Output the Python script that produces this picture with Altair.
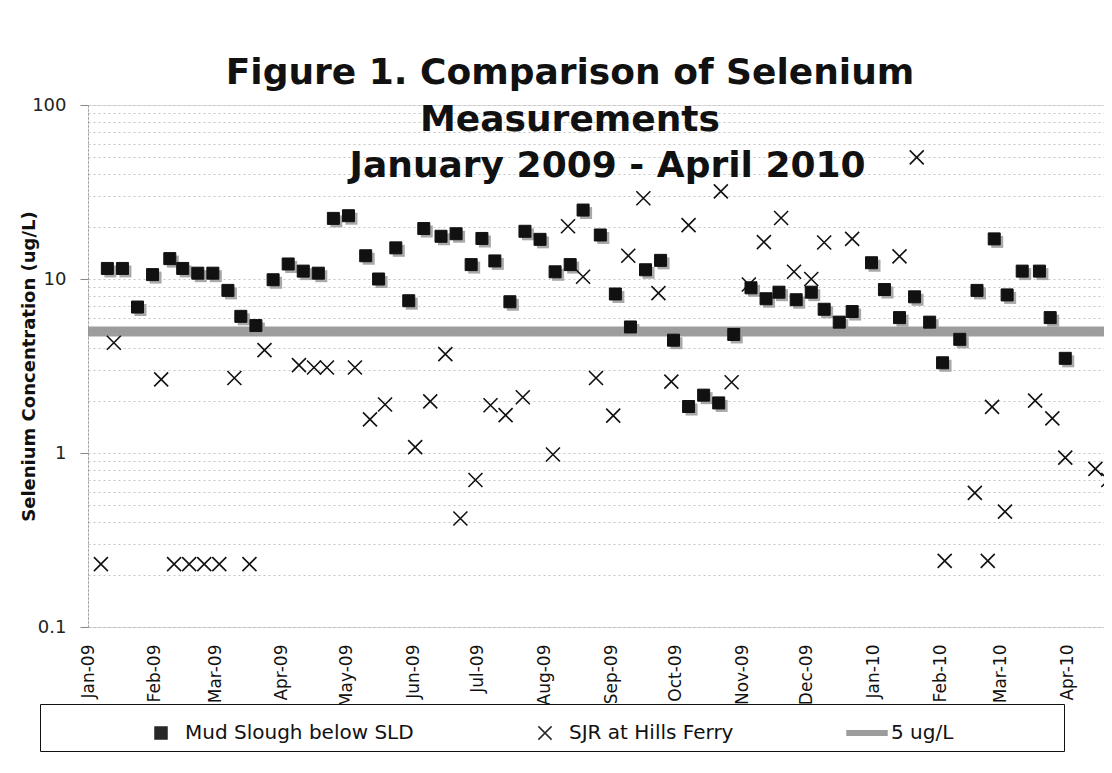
import altair as alt
import pandas as pd

SERIES = ["Mud Slough below SLD", "SJR at Hills Ferry", "5 ug/L"]

ms_dates = [
    "2009-01-10", "2009-01-17", "2009-01-24", "2009-01-31", "2009-02-08", "2009-02-14",
    "2009-02-21", "2009-02-28", "2009-03-07", "2009-03-13", "2009-03-20", "2009-03-28",
    "2009-04-04", "2009-04-11", "2009-04-18", "2009-04-25", "2009-05-02", "2009-05-10",
    "2009-05-16", "2009-05-24", "2009-05-30", "2009-06-06", "2009-06-14", "2009-06-21",
    "2009-06-28", "2009-07-03", "2009-07-09", "2009-07-16", "2009-07-23", "2009-07-30",
    "2009-08-06", "2009-08-13", "2009-08-19", "2009-08-27", "2009-09-03", "2009-09-10",
    "2009-09-17", "2009-09-24", "2009-09-30", "2009-10-07", "2009-10-14", "2009-10-21",
    "2009-10-28", "2009-11-05", "2009-11-12", "2009-11-18", "2009-11-26", "2009-12-03",
    "2009-12-09", "2009-12-16", "2009-12-22", "2009-12-31", "2010-01-06", "2010-01-13",
    "2010-01-20", "2010-01-27", "2010-02-02", "2010-02-10", "2010-02-18", "2010-02-26",
    "2010-03-04", "2010-03-11", "2010-03-19", "2010-03-24", "2010-03-31",
]
ms_values = [
    11.5, 11.5, 6.9, 10.6, 13.1, 11.5,
    10.8, 10.8, 8.6, 6.1, 5.4, 9.9,
    12.2, 11.1, 10.8, 22.3, 23.1, 13.6,
    10.0, 15.1, 7.5, 19.5, 17.6, 18.2,
    12.1, 17.1, 12.7, 7.4, 18.8, 16.9,
    11.0, 12.1, 24.9, 17.9, 8.2, 5.3,
    11.3, 12.8, 4.45, 1.85, 2.15, 1.94,
    4.8, 8.9, 7.7, 8.4, 7.6, 8.4,
    6.7, 5.65, 6.5, 12.4, 8.7, 6.0,
    7.9, 5.65, 3.3, 4.5, 8.6, 17.0,
    8.1, 11.1, 11.1, 6.0, 3.5,
]

sjr_dates = [
    "2009-01-07", "2009-01-13", "2009-02-04", "2009-02-10", "2009-02-17", "2009-02-24",
    "2009-03-03", "2009-03-10", "2009-03-17", "2009-03-24", "2009-04-09", "2009-04-16",
    "2009-04-22", "2009-05-05", "2009-05-12", "2009-05-19", "2009-06-02", "2009-06-09",
    "2009-06-16", "2009-06-23", "2009-06-30", "2009-07-07", "2009-07-14", "2009-07-22",
    "2009-08-05", "2009-08-12", "2009-08-19", "2009-08-25", "2009-09-02", "2009-09-09",
    "2009-09-16", "2009-09-23", "2009-09-29", "2009-10-07", "2009-10-22", "2009-10-27",
    "2009-11-04", "2009-11-11", "2009-11-19", "2009-11-25", "2009-12-03", "2009-12-09",
    "2009-12-22", "2010-01-13", "2010-01-21", "2010-02-03", "2010-02-17", "2010-02-23",
    "2010-02-25", "2010-03-03", "2010-03-17", "2010-03-25", "2010-03-31", "2010-04-14",
    "2010-04-20",
]
sjr_values = [
    0.23, 4.3, 2.65, 0.23, 0.23, 0.23,
    0.23, 2.7, 0.23, 3.9, 3.2, 3.1,
    3.1, 3.1, 1.56, 1.9, 1.08, 1.98,
    3.7, 0.42, 0.70, 1.88, 1.65, 2.09,
    0.98, 20.1, 10.3, 2.7, 1.64, 13.6,
    29.1, 8.3, 2.57, 20.4, 31.9, 2.55,
    9.3, 16.3, 22.4, 11.0, 10.0, 16.2,
    17.0, 13.5, 50.0, 0.24, 0.59, 0.24,
    1.84, 0.46, 2.0, 1.58, 0.94, 0.81,
    0.70,
]

limit_value = [5.0]

month_ticks = [
    "2009-01", "2009-02", "2009-03", "2009-04", "2009-05", "2009-06", "2009-07", "2009-08",
    "2009-09", "2009-10", "2009-11", "2009-12", "2010-01", "2010-02", "2010-03", "2010-04",
]
y_grid_values = [
    0.1, 0.2, 0.3, 0.4, 0.5, 0.6, 0.7, 0.8, 0.9,
    1, 2, 3, 4, 5, 6, 7, 8, 9,
    10, 20, 30, 40, 50, 60, 70, 80, 90, 100,
]

ms = pd.DataFrame({"date": pd.to_datetime(ms_dates), "value": ms_values, "series": SERIES[0]})
sjr = pd.DataFrame({"date": pd.to_datetime(sjr_dates), "value": sjr_values, "series": SERIES[1]})
limit = pd.DataFrame({"value": limit_value, "series": [SERIES[2]]})

FONT = "DejaVu Sans"
NB = "\u00a0"
ZW = "\u200b"

x_axis = alt.Axis(
    values=[alt.DateTime(year=int(m[:4]), month=int(m[5:]), date=1) for m in month_ticks],
    format="%b-%y", labelAngle=270, labelFont=FONT, labelFontSize=17, labelColor="#111",
    labelPadding=17, ticks=False, grid=False, title=None,
    domainColor="#bbbbbb", domainDash=[2, 3], labelOverlap=False,
)
y_axis = alt.Axis(
    values=y_grid_values,
    labelExpr="datum.value == 0.1 ? '0.1' : datum.value == 1 ? '1' : datum.value == 10 ? '10' : datum.value == 100 ? '100' : ''",
    labelFont=FONT, labelFontSize=18, labelColor="#222", labelPadding=14,
    grid=True, gridColor="#c4c4c4", gridDash=[2, 3], gridWidth=1,
    tickColor="#888", tickSize=8,
    tickOpacity={"condition": {"test": "indexof([0.1, 1, 10, 100], datum.value) >= 0", "value": 1}, "value": 0},
    domainColor="#999999", domainDash=[2, 2],
    title="Selenium Concentration (ug/L)", titleFont=FONT, titleFontSize=18,
    titleFontWeight="bold", titleColor="#111", titleX=-59, titleBaseline="middle",
)

x_enc = alt.X("date:T", scale=alt.Scale(domain=[alt.DateTime(year=2009, month=1, date=1),
                                              alt.DateTime(year=2010, month=4, date=18)]),
              axis=x_axis)
y_enc = alt.Y("value:Q", scale=alt.Scale(type="log", domain=[0.1, 100]), axis=y_axis)

legend = alt.Legend(
    orient="none", legendX=-48, legendY=599, direction="horizontal",
    title="MMMMM", titleOrient="left", titleFontSize=19, titleFont=FONT,
    titleFontWeight="normal", titleOpacity=0, titlePadding=10,
    labelFont=FONT, labelFontSize=20, labelColor="#111", labelOffset=3, labelLimit=600,
    columnPadding=110, padding=8, strokeColor="#111", fillColor="white",
    symbolSize=1600, symbolStrokeWidth=1.5,
    labelExpr="datum.label == '5 ug/L' ? datum.label + '" + NB * 16 + ZW + "' : datum.label",
)

SQUARE = "M-0.3,-0.3H0.3V0.3H-0.3Z"
CROSS = "M-0.33,-0.33L0.33,0.33M-0.33,0.33L0.33,-0.33"
BAR = "M-1,-0.11H1V0.11H-1Z"

shape_scale = alt.Scale(domain=SERIES, range=[SQUARE, CROSS, BAR])
fill_scale = alt.Scale(domain=SERIES, range=["#111111", "transparent", "#929292"])
stroke_scale = alt.Scale(domain=SERIES, range=["#111111", "#111111", "#929292"])

band = alt.Chart(limit).mark_rule(strokeWidth=10, opacity=0.9).encode(
    y=alt.Y("value:Q"),
    stroke=alt.Stroke("series:N", scale=stroke_scale, legend=legend),
)

shadow = alt.Chart(ms).mark_point(
    shape="square", filled=True, color="#a0a0a0", size=144, xOffset=3, yOffset=3,
    opacity=0.9, clip=True,
).encode(x=alt.X("date:T"), y=alt.Y("value:Q"))

squares = alt.Chart(ms).mark_point(clip=True, opacity=1, size=1600, strokeWidth=1).encode(
    x=alt.X("date:T"),
    y=alt.Y("value:Q"),
    shape=alt.Shape("series:N", scale=shape_scale, legend=legend),
    fill=alt.Fill("series:N", scale=fill_scale, legend=legend),
    stroke=alt.Stroke("series:N", scale=stroke_scale, legend=legend),
)

crosses = alt.Chart(sjr).mark_point(clip=True, opacity=1, size=1800, strokeWidth=1.6).encode(
    x=alt.X("date:T"),
    y=alt.Y("value:Q"),
    shape=alt.Shape("series:N", scale=shape_scale, legend=legend),
    fill=alt.Fill("series:N", scale=fill_scale, legend=legend),
    stroke=alt.Stroke("series:N", scale=stroke_scale, legend=legend),
)

base = alt.Chart(ms).mark_point(opacity=0).encode(x=x_enc, y=y_enc)

chart = alt.layer(base, band, shadow, squares, crosses).properties(
    width=1016, height=522,
    title=alt.TitleParams(
        text=["Figure 1. Comparison of Selenium", "Measurements",
              ZW + NB * 6 + "January 2009 - April 2010"],
        font=FONT, fontSize=36, fontWeight="bold", color="#111",
        anchor="middle", frame="group", lineHeight=46.5,
        baseline="alphabetic", offset=0, dx=-26, dy=117,
    ),
    padding={"left": 80, "top": 97, "right": 0, "bottom": 130},
    autosize=alt.AutoSizeParams(type="none"),
).configure_view(stroke=None).configure_legend(strokeWidth=2).configure(background="white")

chart.save("out.html", embed_options={"renderer": "svg", "actions": False})
